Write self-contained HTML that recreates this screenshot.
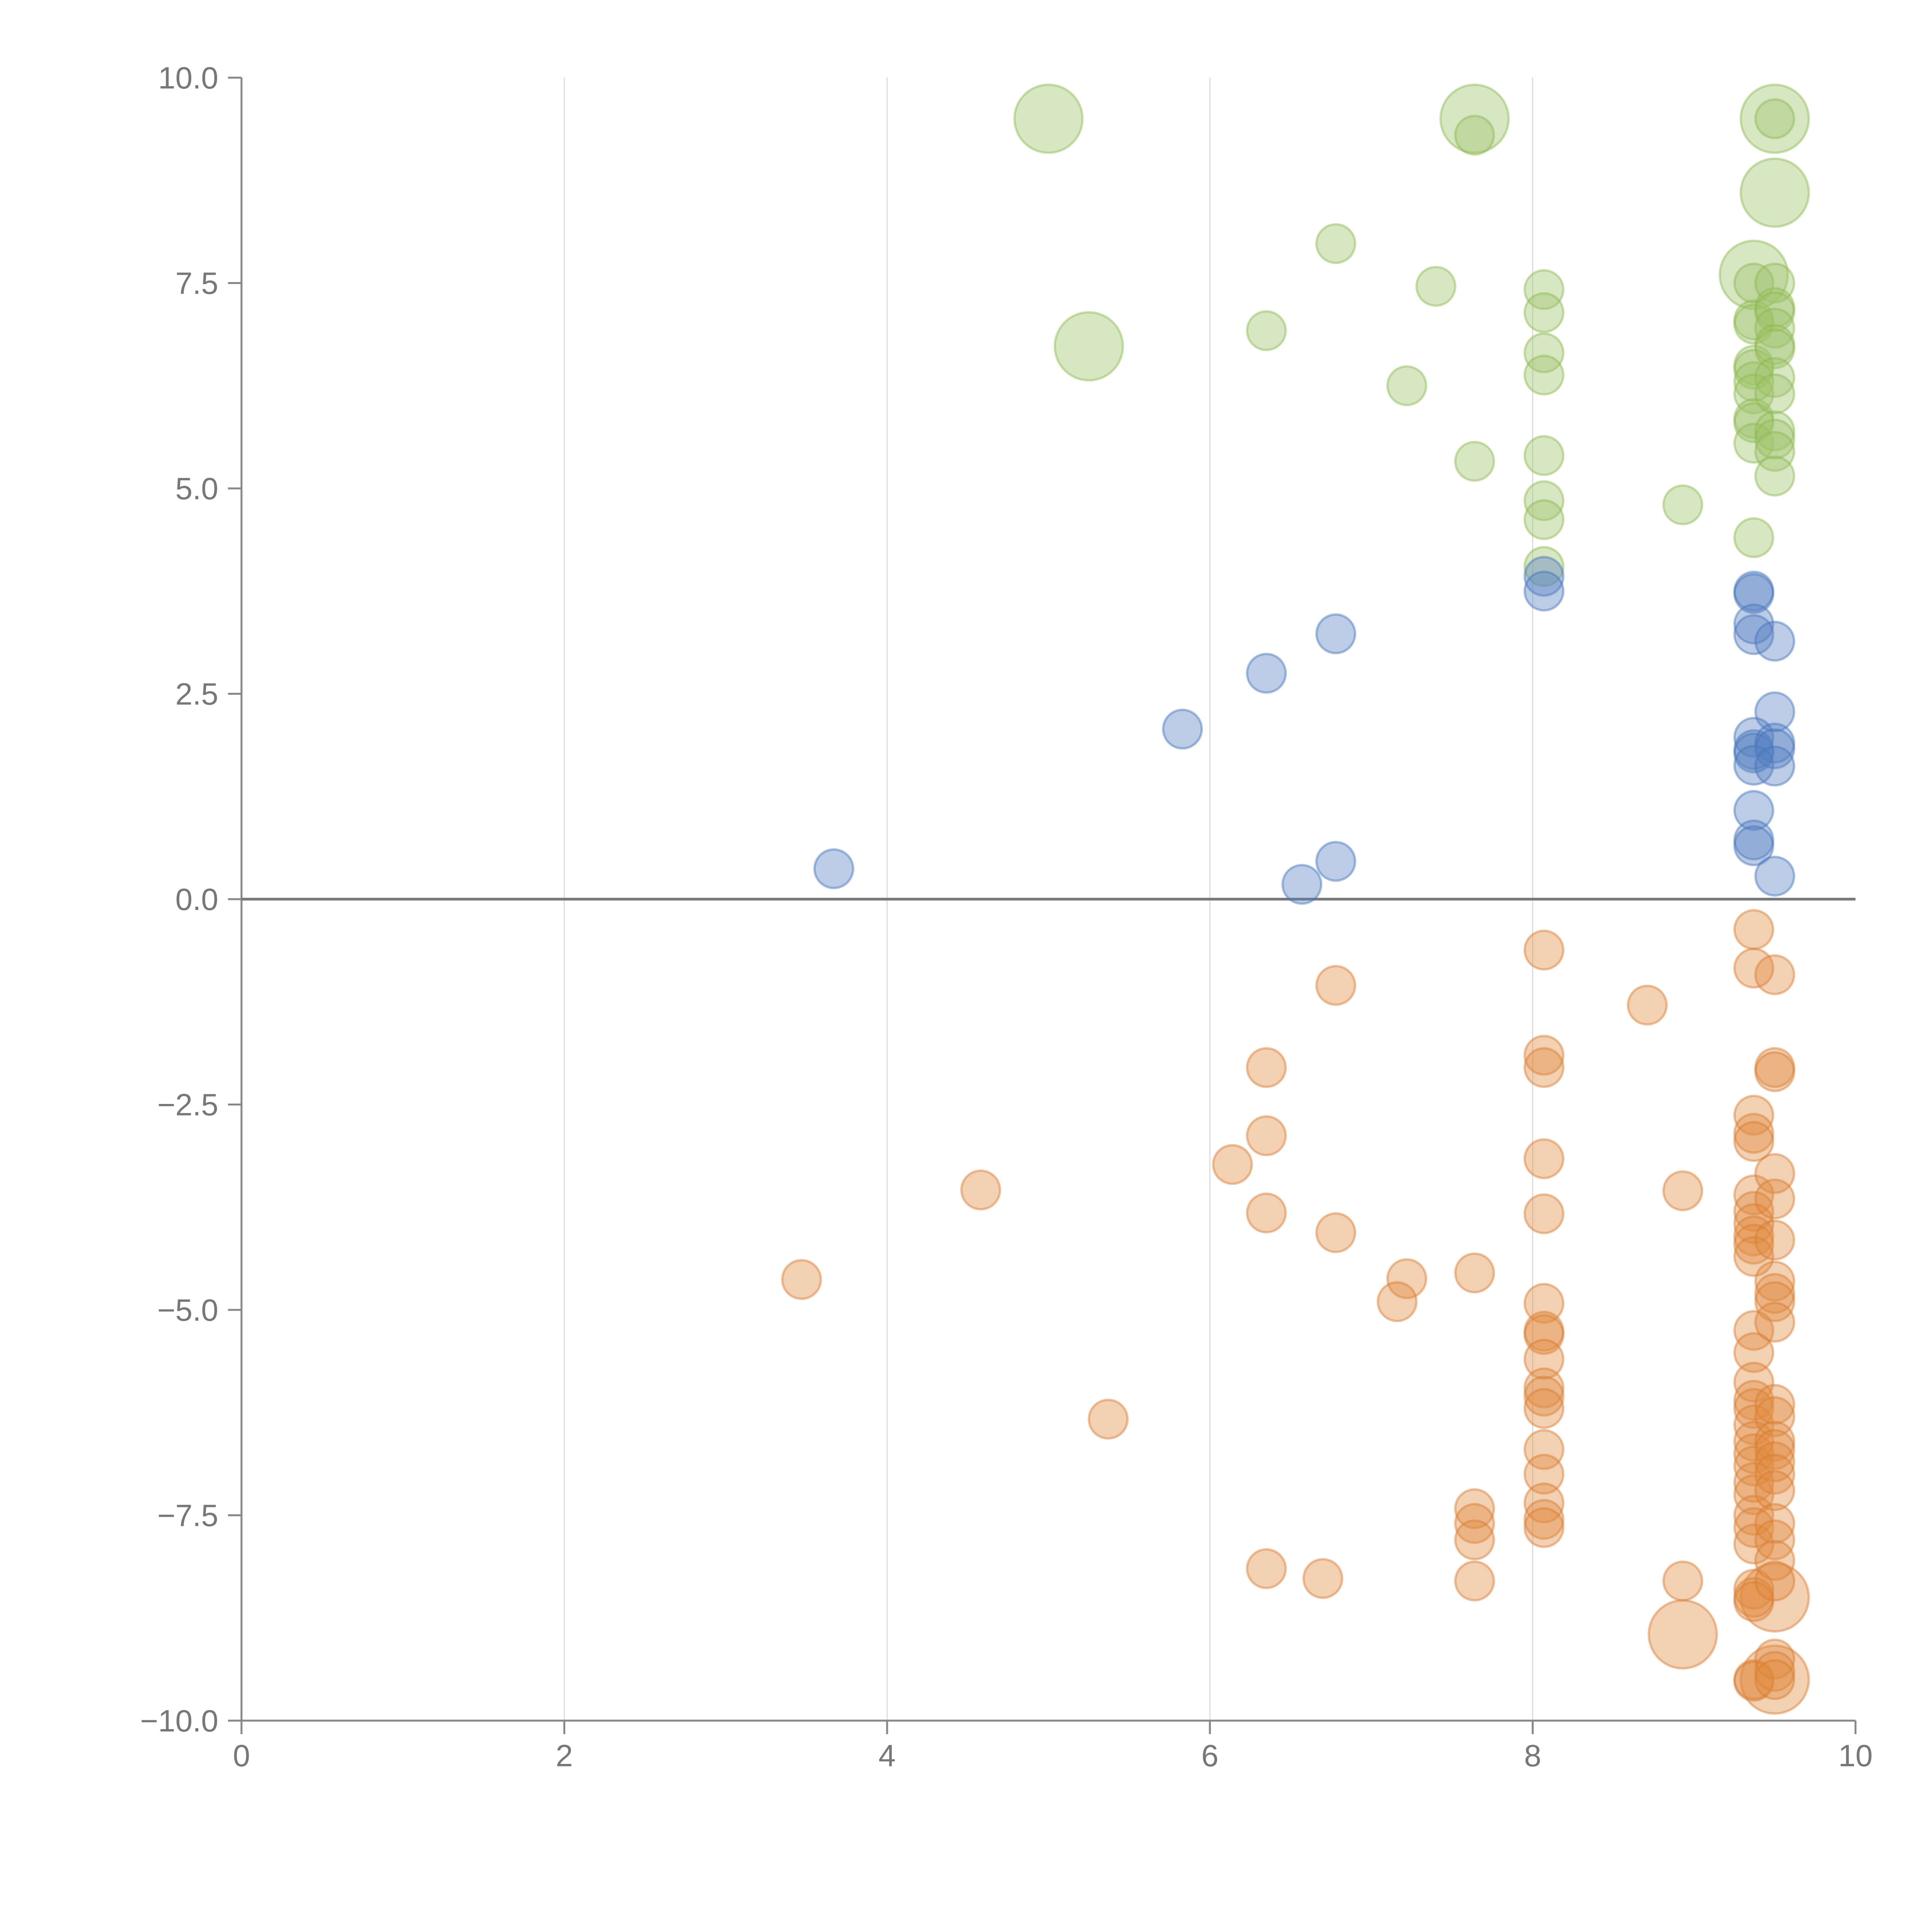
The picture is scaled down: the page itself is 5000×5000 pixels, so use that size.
<!DOCTYPE html>
<html><head><meta charset="utf-8"><style>
html,body{margin:0;padding:0;background:#fff;}
svg{display:block;}
text{font-family:"Liberation Sans",Arial,sans-serif;fill:#777;}
</style></head>
<body>
<svg id="chart" width="5000" height="5000" viewBox="0 0 5000 5000" xmlns="http://www.w3.org/2000/svg">
<g id="grid"></g>
<g id="axes"></g>
<g id="points"></g>
</svg>
<script>
const xTicks=[0,2,4,6,8,10];
const yTicks=[-10,-7.5,-5,-2.5,0,2.5,5,7.5,10];
const yTickLabels=["\u221210.0","\u22127.5","\u22125.0","\u22122.5","0.0","2.5","5.0","7.5","10.0"];
const greenX=[7.64,9.5,6.78,7.4,6.35,7.22,7.64,8.07,8.07,8.07,8.07,8.07,8.07,8.07,8.07,8.93,9.37,9.37,9.37,9.37,9.37,9.37,9.37,9.37,9.37,9.37,9.37,9.5,9.5,9.5,9.5,9.5,9.5,9.5,9.5,9.5,9.5,9.5,9.5];
const greenY=[9.3,9.5,7.98,7.46,6.92,6.25,5.33,7.42,7.14,6.65,6.38,5.4,4.85,4.62,4.05,4.8,4.4,7.5,7.05,7.0,6.5,6.45,6.3,6.15,5.85,5.8,5.55,7.5,7.2,7.15,6.95,6.75,6.7,6.35,6.15,5.7,5.6,5.45,5.15];
const greenBigX=[5.0,7.64,9.5,9.5,9.37,5.25];
const greenBigY=[9.5,9.5,9.5,8.6,7.6,6.73];
const blueX=[3.67,5.83,6.35,6.78,6.57,6.78,8.07,8.07,9.37,9.37,9.37,9.37,9.5,9.5,9.37,9.37,9.37,9.5,9.5,9.37,9.5,9.37,9.37,9.37,9.5];
const blueY=[0.37,2.07,2.75,3.23,0.18,0.46,3.93,3.75,3.75,3.72,3.35,3.22,3.14,2.28,1.97,1.82,1.78,1.9,1.83,1.63,1.62,1.08,0.72,0.65,0.28];
const orangeX=[8.07,9.37,9.37,9.5,6.78,8.71,6.35,8.07,8.07,9.5,9.5,6.35,9.37,9.37,9.37,6.14,8.07,4.58,8.93,9.37,9.37,9.37,9.37,9.37,9.37,9.5,9.5,9.5,6.35,8.07,6.78,3.47,7.22,7.16,7.64,8.07,8.07,8.07,8.07,8.07,8.07,8.07,8.07,8.07,8.07,8.07,8.07,5.37,7.64,7.64,7.64,7.64,6.35,6.7,8.93,9.37,9.37,9.37,9.37,9.37,9.37,9.37,9.37,9.37,9.37,9.37,9.37,9.37,9.37,9.37,9.37,9.37,9.37,9.37,9.5,9.5,9.5,9.5,9.5,9.5,9.5,9.5,9.5,9.5,9.5,9.5,9.5,9.5,9.5,9.5,9.5,9.5];
const orangeY=[-0.62,-0.37,-0.84,-0.92,-1.05,-1.29,-2.05,-1.9,-2.05,-2.05,-2.1,-2.88,-2.63,-2.85,-2.95,-3.23,-3.16,-3.54,-3.55,-3.6,-3.8,-3.95,-4.1,-4.2,-4.35,-3.34,-3.65,-4.15,-3.82,-3.83,-4.06,-4.63,-4.62,-4.9,-4.55,-4.92,-5.26,-5.3,-5.6,-5.95,-6.05,-6.2,-6.7,-7.0,-7.35,-7.55,-7.65,-6.33,-7.42,-7.6,-7.8,-8.3,-8.15,-8.27,-8.3,-5.25,-5.52,-5.88,-6.1,-6.2,-6.4,-6.6,-6.75,-6.9,-7.1,-7.25,-7.5,-7.65,-7.85,-8.4,-8.5,-8.55,-9.5,-9.52,-4.65,-4.8,-4.9,-5.15,-6.15,-6.3,-6.6,-6.7,-6.85,-7.0,-7.2,-7.6,-7.8,-8.05,-8.3,-9.25,-9.4,-9.5];
const orangeBigX=[8.93,9.5,9.5];
const orangeBigY=[-8.95,-8.5,-9.5];

const NS="http://www.w3.org/2000/svg";
const X0=625,X1=4802,Y0=4453,Y1=201;
function sx(v){return X0+(v-0)/(10-0)*(X1-X0);}
function sy(v){return Y0-(v+10)/20*(Y0-Y1);}
function mk(tag,attrs,parent){const e=document.createElementNS(NS,tag);for(const k in attrs)e.setAttribute(k,attrs[k]);parent.appendChild(e);return e;}
const grid=document.getElementById('grid'),axes=document.getElementById('axes'),pts=document.getElementById('points');

xTicks.forEach(t=>{
  if(t>0&&t<10){const g=mk('line',{x1:sx(t),x2:sx(t),y1:Y1,y2:Y0,stroke:'#dcdcdc','stroke-width':3},grid);
  
  }
  const tk=mk('line',{x1:sx(t),x2:sx(t),y1:Y0,y2:Y0+35,stroke:'#888','stroke-width':5},axes);
  
  
  const lb=mk('text',{x:sx(t),y:Y0+118,'text-anchor':'middle','font-size':80},axes);
  lb.textContent=String(t);
  
  
});
yTicks.forEach((t,i)=>{
  const tk=mk('line',{x1:X0-35,x2:X0,y1:sy(t),y2:sy(t),stroke:'#888','stroke-width':5},axes);
  
  
  const lb=mk('text',{x:X0-60,y:sy(t)+28,'text-anchor':'end','font-size':80},axes);
  lb.textContent=yTickLabels[i];
  
  
});
const ya=mk('line',{x1:X0,x2:X0,y1:Y1,y2:Y0,stroke:'#888','stroke-width':5},axes);


const xa=mk('line',{x1:X0,x2:X1,y1:Y0,y2:Y0,stroke:'#888','stroke-width':5},axes);


const zl=mk('line',{x1:X0,x2:X1,y1:sy(0),y2:sy(0),stroke:'#777','stroke-width':7},axes);



function drawSeries(xs,ys,r,fill,stroke,name){
  xs.forEach((x,i)=>{
    const c=mk('circle',{cx:sx(x),cy:sy(ys[i]),r:r,fill:fill,stroke:stroke,'stroke-width':6},pts);
    
    
  });
}
const G=['rgba(157,196,104,0.4)','rgba(140,185,80,0.45)'];
const B=['rgba(84,128,194,0.4)','rgba(70,115,185,0.45)'];
const O=['rgba(226,138,62,0.4)','rgba(215,125,50,0.45)'];
drawSeries(greenBigX,greenBigY,88,G[0],G[1],'green-big-point');
drawSeries(greenX,greenY,50,G[0],G[1],'green-point');
drawSeries(blueX,blueY,50,B[0],B[1],'blue-point');
drawSeries(orangeBigX,orangeBigY,88,O[0],O[1],'orange-big-point');
drawSeries(orangeX,orangeY,50,O[0],O[1],'orange-point');
</script>
</body></html>
